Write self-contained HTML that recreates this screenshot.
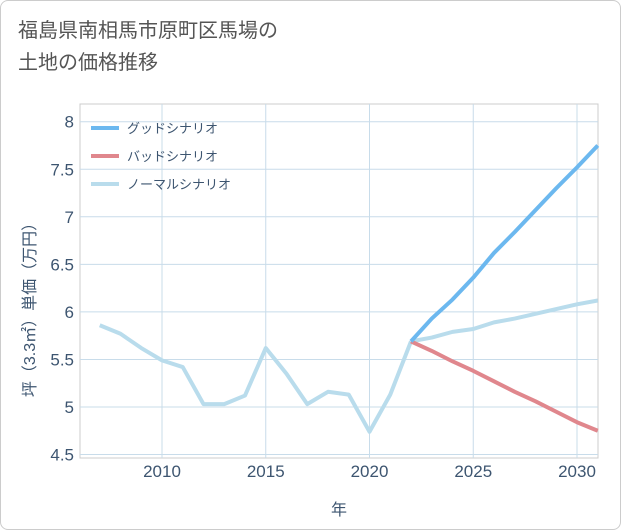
<!DOCTYPE html>
<html><head><meta charset="utf-8"><style>
body{margin:0;background:#fff;}
#card{position:absolute;left:0;top:0;width:619px;height:528px;border:1px solid #ccc;border-radius:8px;background:#fff;font-family:"Liberation Sans","Noto Sans CJK JP",sans-serif;}
#title{position:absolute;left:17px;top:14px;font-size:20px;line-height:32px;color:#555;}
svg{position:absolute;left:0;top:0;}
</style></head><body>
<div id="card">
<div id="title">福島県南相馬市原町区馬場の<br>土地の価格推移</div>
<svg id="chart" width="621" height="530"></svg>
</div>
<script>
const years=[2007,2008,2009,2010,2011,2012,2013,2014,2015,2016,2017,2018,2019,2020,2021,2022];
const normalHist=[5.86,5.77,5.62,5.49,5.42,5.03,5.03,5.12,5.62,5.35,5.03,5.16,5.13,4.74,5.13,5.69];
const futYears=[2022,2023,2024,2025,2026,2027,2028,2029,2030,2031];
const goodVals=[5.69,5.93,6.13,6.36,6.62,6.84,7.07,7.30,7.52,7.75];
const badVals=[5.69,5.59,5.48,5.38,5.27,5.16,5.06,4.95,4.84,4.75];
const normalVals=[5.69,5.73,5.79,5.82,5.89,5.93,5.98,6.03,6.08,6.12];
const xTicks=[2010,2015,2020,2025,2030];
const yTicks=[4.5,5,5.5,6,6.5,7,7.5,8];
const seriesNames=["グッドシナリオ","バッドシナリオ","ノーマルシナリオ"];
const NS="http://www.w3.org/2000/svg";
const svg=document.getElementById('chart');
const L=79,R=597,T=103,B=457;
const x=y=>161+(y-2010)*20.75;
const yv=v=>406-(v-5)*95.1;
function mk(t,a,p){const e=document.createElementNS(NS,t);for(const k in a)e.setAttribute(k,a[k]);(p||svg).appendChild(e);return e;}
const border=mk('rect',{x:L,y:T,width:R-L,height:B-T,fill:'none',stroke:'#ccc'});


xTicks.forEach(t=>{
 const g=mk('line',{x1:x(t),x2:x(t),y1:T,y2:B,stroke:'#c8dcea','stroke-width':1});
 
 
 const tx=mk('text',{x:x(t),y:476,'text-anchor':'middle','font-size':17,fill:'#3d5570'});tx.textContent=t;
 
 
});
yTicks.forEach(t=>{
 const g=mk('line',{x1:L,x2:R,y1:yv(t),y2:yv(t),stroke:'#c8dcea','stroke-width':1});
 
 
 const tx=mk('text',{x:73,y:yv(t)+6,'text-anchor':'end','font-size':17,fill:'#3d5570'});tx.textContent=t;
 
 
});
function line(xs,vs,col,name){
 const p=mk('polyline',{points:xs.map((t,i)=>x(t)+','+yv(vs[i])).join(' '),fill:'none',stroke:col,'stroke-width':4,'stroke-linejoin':'round'});
 
 
}
line(years,normalHist,'#b9dcec','normal-history-line');
line(futYears,normalVals,'#b9dcec','normal-scenario-line');
line(futYears,badVals,'#e0878d','bad-scenario-line');
line(futYears,goodVals,'#6cb8ef','good-scenario-line');
const cols=['#6cb8ef','#e0878d','#b9dcec'];
seriesNames.forEach((n,i)=>{
 const yy=127+i*28;
 const l=mk('line',{x1:90,x2:118,y1:yy,y2:yy,stroke:cols[i],'stroke-width':4});
 
 
 const t=mk('text',{x:126,y:yy+5,'font-size':13,fill:'#3d5570'});t.textContent=n;
 
 
});
const xt=mk('text',{x:338,y:514,'text-anchor':'middle','font-size':16,fill:'#3d5570'});xt.textContent='年';


const yt=mk('text',{x:0,y:0,'text-anchor':'middle','font-size':16,fill:'#3d5570',transform:'translate(34,305) rotate(-90)'});yt.textContent='坪（3.3㎡）単価（万円）';


</script>
</body></html>
